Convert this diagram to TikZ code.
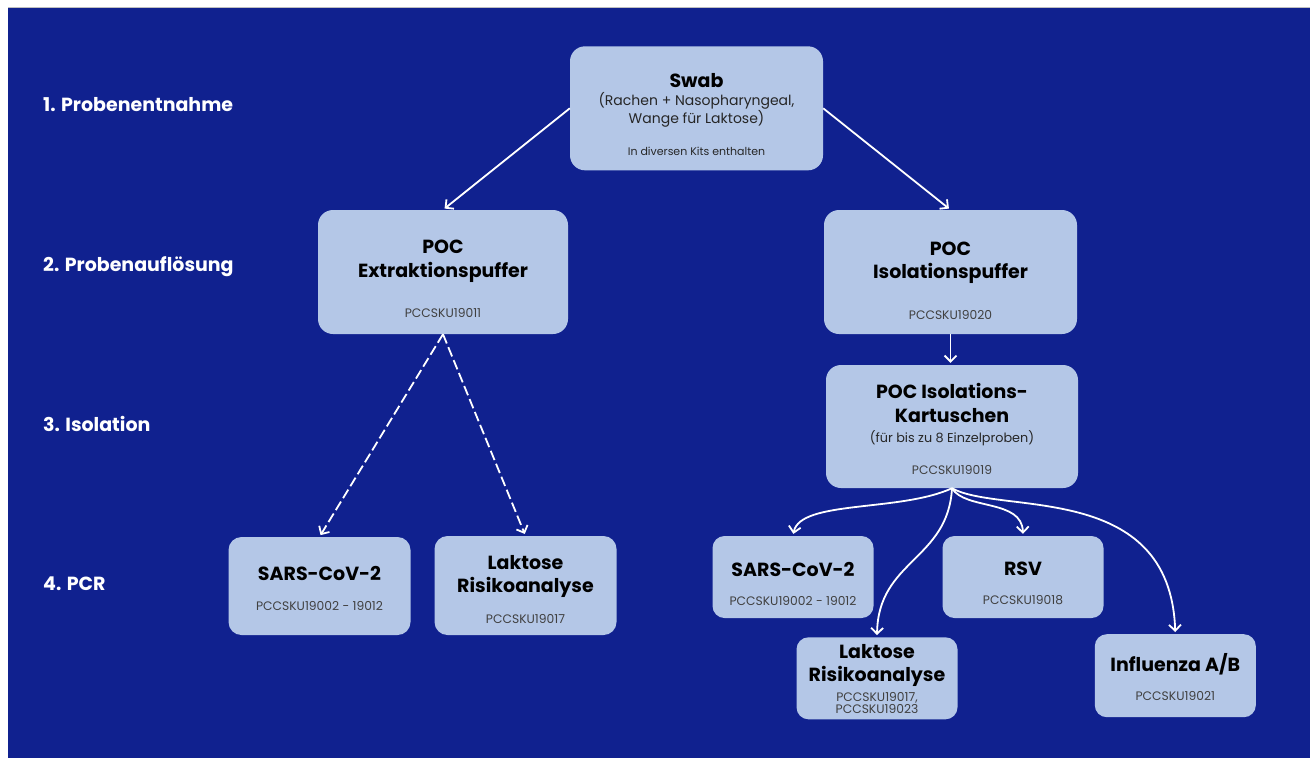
\documentclass[tikz,border=0pt]{standalone}
\usepackage{fontspec}
\setmainfont{Poppins}
\usepackage{tikz}
\usetikzlibrary{arrows.meta, positioning, calc}
\definecolor{bgblue}{RGB}{16,33,143}
\definecolor{boxblue}{RGB}{180,199,231}
\definecolor{codegrey}{RGB}{64,64,64}

\begin{document}
\begin{tikzpicture}[
          x=1pt, y=-1pt,
          box/.style={fill=boxblue, rounded corners=15pt, inner sep=0pt},
          big/.style={box, minimum width=252pt, minimum height=124pt},
          mid/.style={box, rounded corners=13pt, minimum width=182pt, minimum height=98pt},
          small/.style={box, rounded corners=12pt, minimum width=161pt, minimum height=82pt},
          title/.style={anchor=base, align=center, inner sep=0pt, text=black,
            font=\bfseries\fontsize{19}{23.5}\selectfont},
          sub/.style={anchor=base, align=center, inner sep=0pt, text=black!85,
            font=\fontsize{12.8}{17.5}\selectfont},
          code/.style={anchor=base, align=center, inner sep=0pt, text=codegrey,
            font=\fontsize{12.3}{11.5}\selectfont},
          stage/.style={anchor=base west, inner sep=0pt, text=white,
            font=\bfseries\fontsize{19}{23}\selectfont},
          arr/.style={-{Straight Barb[length=6pt, width=12pt]}, draw=white,
            line width=1.8pt, shorten >=2pt}
        ]
        \useasboundingbox (0,0) rectangle (1313,758);
        \fill[bgblue] (8,7.5) rectangle (1310,758);
        \draw[black!25, line width=0.8pt] (8,7) -- (1310,7);

        % stages
        \node[stage] (s1) at (43,111.7) {1. Probenentnahme};
        \node[stage] (s2) at (43,271.7) {2. Probenauflösung};
        \node[stage] (s3) at (43,431) {3. Isolation};
        \node[stage] (s4) at (43,590) {4. PCR};

        % sample
        \node[big, minimum width=253pt] (root) at (696.5,108.3) {};
        \node[title] (root-t) at (696.5,87) {Swab};
        \node[sub, font=\fontsize{14}{17.6}\selectfont] (root-s) at (696.5,123.3) {(Rachen + Nasopharyngeal,\\Wange für Laktose)};
        \node[code, text=black!85, font=\fontsize{11}{12}\selectfont] (root-c) at (696.5,155) {In diversen Kits enthalten};

        % buffers
        \node[big, minimum width=250pt] (c1) at (443,272) {};
        \node[title] (c1-t) at (443,277.3) {POC\\Extraktionspuffer};
        \node[code] (c1-c) at (443,317.3) {PCCSKU19011};

        \node[big, minimum width=253pt] (c2) at (950.5,272) {};
        \node[title] (c2-t) at (950.5,278.5) {POC\\Isolationspuffer};
        \node[code] (c2-c) at (950.5,319.5) {PCCSKU19020};

        \node[big, minimum height=123pt] (c21) at (952,426.5) {};
        \node[title] (c21-t) at (952,422.3) {POC Isolations-\\Kartuschen};
        \node[sub] (c21-s) at (952,442.3) {(für bis zu 8 Einzelproben)};
        \node[code] (c21-c) at (952,474) {PCCSKU19019};

        % PCR, left
        \node[mid] (c11) at (319.5,586) {};
        \node[title] (c11-t) at (319.5,580.7) {SARS-CoV-2};
        \node[code] (c11-c) at (319.5,610) {PCCSKU19002 - 19012};

        \node[mid, minimum height=99pt] (c12) at (525.5,585.5) {};
        \node[title] (c12-t) at (525.5,592.7) {Laktose\\Risikoanalyse};
        \node[code] (c12-c) at (525.5,623.3) {PCCSKU19017};

        % PCR, right
        \node[small] (c211) at (793,577) {};
        \node[title] (c211-t) at (793,576) {SARS-CoV-2};
        \node[code] (c211-c) at (793,605) {PCCSKU19002 - 19012};

        \node[small] (c212) at (877,678.3) {};
        \node[title] (c212-t) at (877,681.7) {Laktose\\Risikoanalyse};
        \node[code] (c212-c) at (877,713.3) {PCCSKU19017,\\PCCSKU19023};

        \node[small] (c213) at (1023,577) {};
        \node[title] (c213-t) at (1023,575) {RSV};
        \node[code] (c213-c) at (1023,604) {PCCSKU19018};

        \node[small, minimum height=83pt] (c214) at (1175.3,675.7) {};
        \node[title] (c214-t) at (1175.3,671.7) {Influenza A/B};
        \node[code] (c214-c) at (1175.3,700.7) {PCCSKU19021};

        % connectors
        \draw[arr] (root.west) -- (c1.north);
        \draw[arr] (root.east) -- (c2.north);
        \draw[arr] (c2.south) -- (c2.south |- c21.north);
        \draw[arr, dash pattern=on 10pt off 4pt] (c1.south) -- (c11.north);
        \draw[arr, dash pattern=on 10pt off 4pt] (c1.south) -- (c12.north);
        \draw[arr] (c21.south) .. controls +(-52,24) and +(7,-36) .. (c211.north);
        \draw[arr] (c21.south) .. controls +(-4,72) and +(1,-77) .. (c212.north);
        \draw[arr] (c21.south) .. controls +(13,22) and +(-1,-37) .. (c213.north);
        \draw[arr] (c21.south) .. controls +(48,27) and +(-5,-154) .. (c214.north);
\end{tikzpicture}
\end{document}
